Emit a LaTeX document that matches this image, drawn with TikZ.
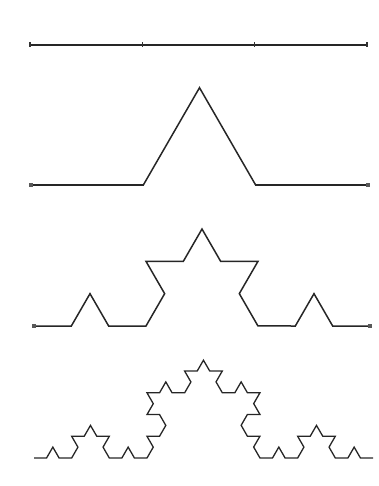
\documentclass[tikz,border=0pt]{standalone}
\usetikzlibrary{decorations.fractals, calc}

\begin{document}
\begin{tikzpicture}[
        x=1pt, y=-1pt,
        koch/.style={line width=1.5pt, line join=miter, black!85},
        tick/.style={line width=1.6pt, black!80},
        endpt/.style={fill=black!65}
    ]
        \useasboundingbox (0,0) rectangle (379,486);

        % step 0: straight segment cut in thirds
        \coordinate (s0) at (30,45);
        \coordinate (e0) at (367,45);
        \draw[koch] (s0) -- (e0);
        \foreach \k in {0,1,2,3}
            \draw[tick] ($(s0)!\k/3!(e0)+(0,-2.5)$) -- ++(0,5);

        % step 1
        \coordinate (s1) at (31,185);
        \coordinate (e1) at (368,185);
        \draw[koch, decoration=Koch snowflake] decorate{ (s1) -- (e1) };

        % step 2
        \coordinate (s2) at (34,326);
        \coordinate (e2) at (370,326);
        \draw[koch, decoration=Koch snowflake] decorate{ decorate{ (s2) -- (e2) } };

        % step 3
        \coordinate (s3) at (34,458);
        \coordinate (e3) at (373,458);
        \draw[koch, line width=1.3pt, decoration=Koch snowflake] decorate{ decorate{ decorate{ (s3) -- (e3) } } };

        % end points
        \foreach \p in {s1,e1,s2,e2}
            \fill[endpt] ($(\p)+(-1.7,-1.7)$) rectangle ++(3.4,3.4);
\end{tikzpicture}
\end{document}
